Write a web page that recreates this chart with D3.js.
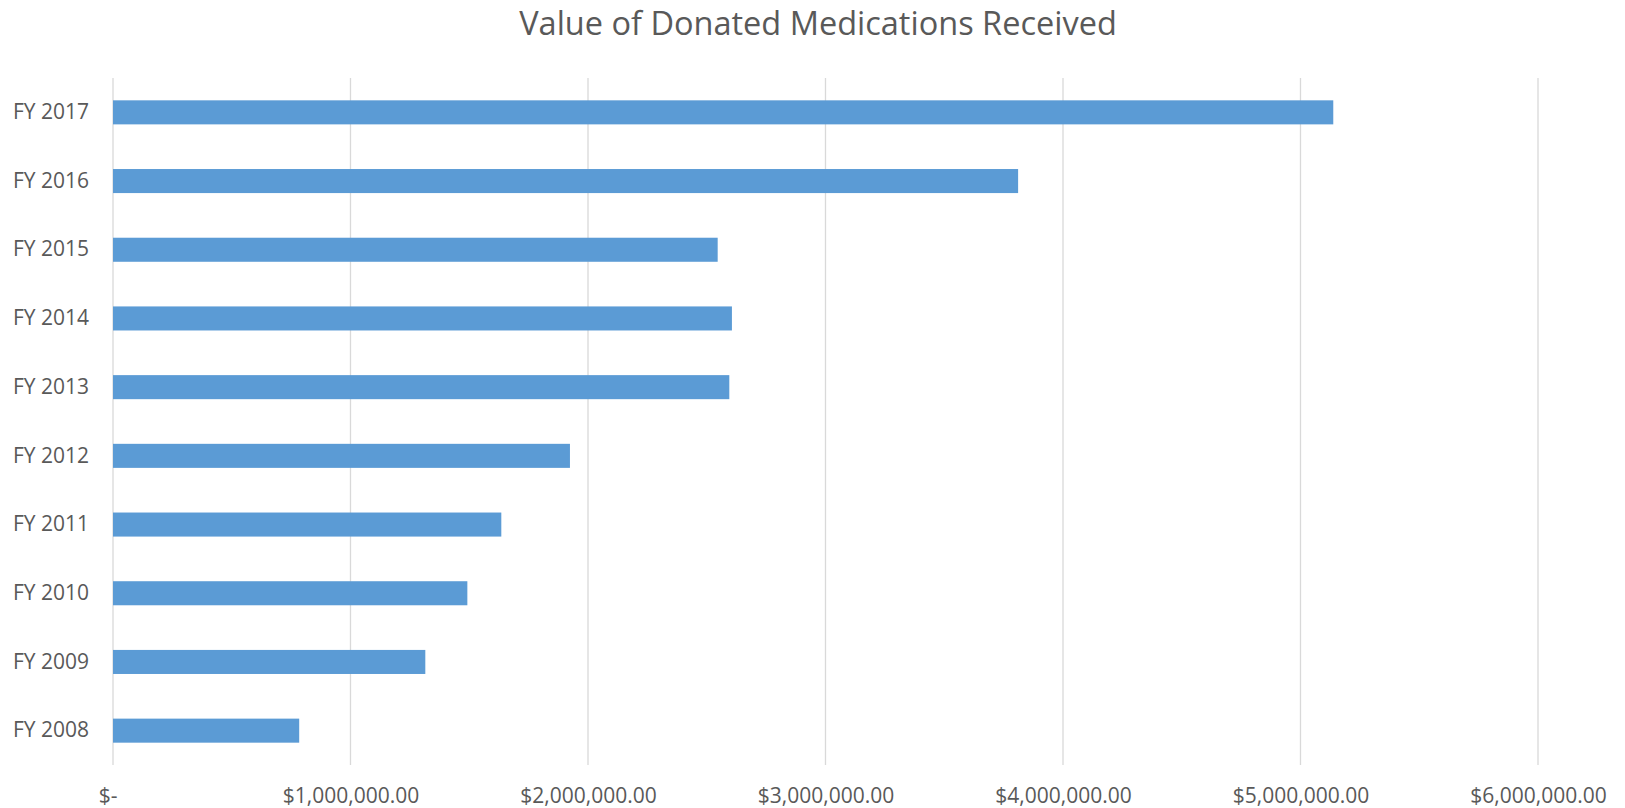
<!DOCTYPE html>
<html>
<head>
<meta charset="utf-8">
<script src="https://cdn.jsdelivr.net/npm/d3@7"></script>
<style>
  body { margin: 0; background: #fff; }
  text { font-family: "Open Sans", sans-serif; fill: #595959; }
</style>
</head>
<body>
<svg id="chart" width="1625" height="808"></svg>
<script>
const categories = ["FY 2017", "FY 2016", "FY 2015", "FY 2014", "FY 2013",
                    "FY 2012", "FY 2011", "FY 2010", "FY 2009", "FY 2008"];
const values = [5138000, 3811000, 2546000, 2606000, 2595000,
                1924000, 1635000, 1492000, 1315000, 784000];
const xTicks = [0, 1000000, 2000000, 3000000, 4000000, 5000000, 6000000];
const title = "Value of Donated Medications Received";

function renderChart() {
  const svg = d3.select("#chart");
  const margin = { top: 78, right: 87, bottom: 43, left: 113 };
  const width = +svg.attr("width") - margin.left - margin.right;
  const height = +svg.attr("height") - margin.top - margin.bottom;

  const x = d3.scaleLinear().domain([0, 6000000]).range([0, width]);
  const y = d3.scaleBand()
    .domain(categories)
    .range([0, height])
    .paddingInner(0.65)
    .paddingOuter(0.325);

  const money = d3.format("$,.2f");

  svg.append("text")
    .attr("x", 818)
    .attr("y", 35)
    .attr("text-anchor", "middle")
    .attr("font-size", 32.5)
    .text(title);

  const g = svg.append("g")
    .attr("transform", `translate(${margin.left},${margin.top})`);

  // vertical gridlines, the zero line is drawn the same way
  g.append("g")
    .selectAll("line")
    .data(xTicks)
    .join("line")
    .attr("x1", d => x(d))
    .attr("x2", d => x(d))
    .attr("y1", 0)
    .attr("y2", height)
    .attr("stroke", "#d9d9d9")
    .attr("stroke-width", 1.3);

  g.append("g")
    .selectAll("rect")
    .data(values)
    .join("rect")
    .attr("x", 0)
    .attr("y", (d, i) => y(categories[i]))
    .attr("width", d => x(d))
    .attr("height", y.bandwidth())
    .attr("fill", "#5b9bd5");

  const xAxis = g.append("g")
    .attr("transform", `translate(0,${height})`)
    .call(d3.axisBottom(x)
      .tickValues(xTicks)
      .tickSize(0)
      .tickPadding(23)
      .tickFormat(d => d === 0 ? "$-\u00a0\u00a0" : money(d)));
  xAxis.select(".domain").remove();
  xAxis.selectAll("text")
    .attr("font-size", 21)
    .attr("font-family", "Open Sans, sans-serif")
    .attr("fill", "#595959")
    .style("white-space", "pre");

  const yAxis = g.append("g")
    .call(d3.axisLeft(y).tickSize(0).tickPadding(24));
  yAxis.select(".domain").remove();
  yAxis.selectAll("text")
    .attr("font-size", 21)
    .attr("font-family", "Open Sans, sans-serif")
    .attr("fill", "#595959");
}

renderChart();
</script>
</body>
</html>
